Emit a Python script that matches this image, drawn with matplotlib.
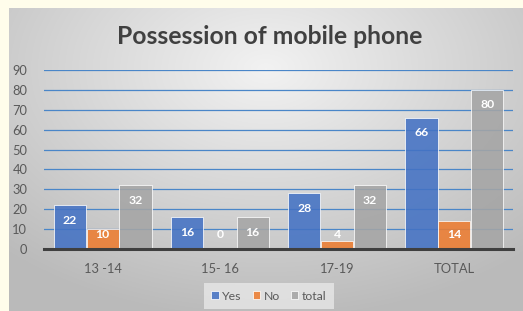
import numpy as np
import matplotlib.pyplot as plt

categories = ['13 -14', '15- 16', '17-19', 'TOTAL']
yes = [22, 16, 28, 66]
no = [10, 0, 4, 14]
total = [32, 16, 32, 80]
series = [('Yes', yes, '#4472C4'), ('No', no, '#ED7D31'), ('total', total, '#A5A5A5')]

plt.rcParams['font.family'] = ['Lato', 'DejaVu Sans']

fig = plt.figure(figsize=(5.23, 3.11), dpi=100)
fig.patch.set_facecolor('#FFFDEB')

# radial gradient background of the chart area
bg = fig.add_axes([9/523, 0, 1 - 9/523, 1 - 8/311])
bg.set_axis_off()
yy, xx = np.mgrid[0:1:300j, 0:1:520j]
r = np.sqrt(((xx - 0.5) * 1.0) ** 2 + ((yy - 0.2) * 0.9) ** 2)
shade = 0.95 - 0.22 * np.clip(r / 0.75, 0, 1)
bg.imshow(np.dstack([shade] * 3), aspect='auto', extent=[0, 1, 1, 0])

ax = fig.add_axes([44/523, (311-249)/311, (513-44)/523, (249-70)/311])
ax.patch.set_alpha(0)

x = np.arange(len(categories))
w = 0.275
for i, (name, vals, col) in enumerate(series):
    pos = x + (i - 1) * (w + 0.005)
    ax.bar(pos, vals, w, color=col, alpha=0.88, edgecolor='#ffffff', linewidth=0.6,
           label=name, zorder=3)
    for p, v in zip(pos, vals):
        ax.text(p, max(v - 7.5, 7.5), str(v), ha='center', va='center',
                color='white', fontsize=8.8, fontweight='bold', zorder=4)

ax.set_ylim(0, 90)
ax.set_xlim(-0.5, 3.5)
ax.set_yticks(range(0, 91, 10))
ax.set_xticks(x)
ax.set_xticklabels(categories)
ax.grid(axis='y', color='#4A86C8', linewidth=0.9, zorder=1)
for s in ['top', 'right', 'left']:
    ax.spines[s].set_visible(False)
ax.spines['bottom'].set_color('#3F3F3F')
ax.spines['bottom'].set_linewidth(2.2)
ax.spines['bottom'].set_zorder(5)
ax.tick_params(length=0, colors='#595959', labelsize=9.3)
ax.tick_params(axis='y', pad=12)
ax.tick_params(axis='x', pad=10)

fig.text(0.516, 1 - 37/311, 'Possession of mobile phone', ha='center', va='center',
         fontsize=17.8, fontweight='bold', color='#404040')

leg = ax.legend(loc='center', bbox_to_anchor=(269/523, 1 - 296/311),
                bbox_transform=fig.transFigure, ncol=3, frameon=True,
                fontsize=8.8, handlelength=0.6, handleheight=0.6,
                handletextpad=0.3, columnspacing=0.9, borderpad=0.6)
leg.get_frame().set_facecolor('#EDEDED')
leg.get_frame().set_edgecolor('none')
leg.get_frame().set_alpha(0.7)
leg.get_frame().set_boxstyle('square', pad=0)
for t in leg.get_texts():
    t.set_color('#595959')

fig.savefig('out.png', dpi=100, facecolor=fig.get_facecolor())
